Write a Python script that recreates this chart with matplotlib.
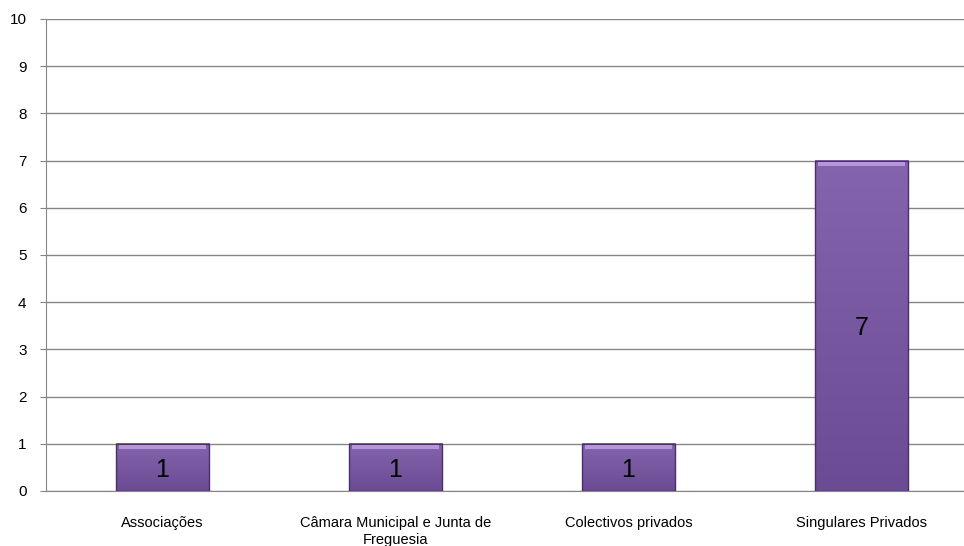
import matplotlib.pyplot as plt
import numpy as np
from matplotlib.colors import LinearSegmentedColormap

categories = ["Associações", "Câmara Municipal e Junta de\nFreguesia",
              "Colectivos privados", "Singulares Privados"]
values = [1, 1, 1, 7]
yticks = list(range(0, 11))

plt.rcParams['font.family'] = ['Liberation Sans', 'DejaVu Sans']

fig = plt.figure(figsize=(9.64, 5.46), dpi=100)
ax = fig.add_axes([46/964, 1 - 491/546, 932/964, 472/546])

# purple gradient, darker at the bottom
purple = LinearSegmentedColormap.from_list('purp', ['#6b4b93', '#8464ad'])
grad = np.linspace(0, 1, 256).reshape(-1, 1)

x = np.arange(len(categories))
bars = ax.bar(x, values, width=0.4, color='none', edgecolor='#4a2f6a',
              linewidth=1.0, zorder=4)

for b in bars:
    x0 = b.get_x()
    x1 = x0 + b.get_width()
    h = b.get_height()
    ax.imshow(grad, cmap=purple, origin='lower', aspect='auto',
              extent=(x0, x1, 0, h), zorder=3)
    # light bevel along the top
    ax.fill_between([x0 + 0.012, x1 - 0.012], h - 0.11, h - 0.02,
                    color='#b596de', linewidth=0, zorder=4)
    ax.text(x0 + b.get_width() / 2, h / 2 - 0.05, str(int(h)), ha='center',
            va='center', fontsize=18, color='black', zorder=5)

ax.set_xlim(-0.5, len(categories) - 0.5)
ax.set_ylim(0, 10)
ax.set_yticks(yticks)
ax.set_xticks(x)
ax.set_xticklabels(categories, fontsize=10.5, linespacing=1.25)
ax.tick_params(axis='y', labelsize=11, length=4, color='#868686', pad=10)
ax.tick_params(axis='x', length=0, pad=18)

ax.grid(axis='y', color='#868686', linewidth=1.0, zorder=0)
for s in ['top', 'right']:
    ax.spines[s].set_visible(False)
ax.spines['left'].set_color('#868686')
ax.spines['bottom'].set_color('#868686')

fig.savefig('out.png', dpi=100)
